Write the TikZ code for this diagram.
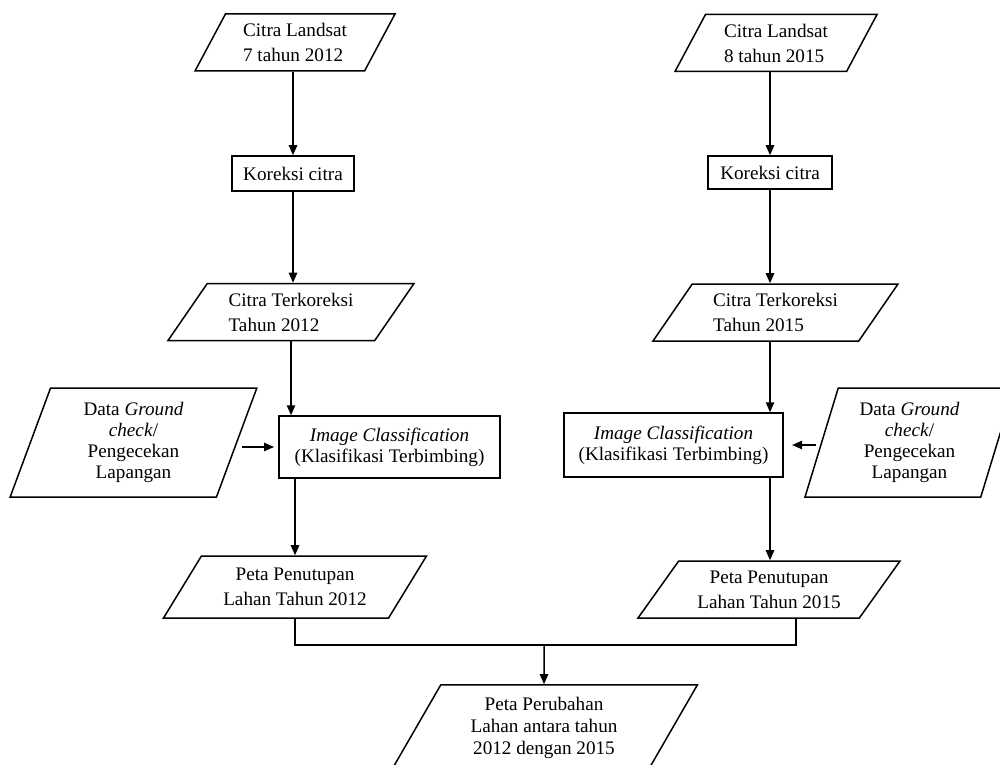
\documentclass[tikz,border=0pt]{standalone}
\usepackage{fontspec}
\setmainfont{Liberation Serif}
\usetikzlibrary{shapes.geometric,arrows.meta}

\begin{document}
\begin{tikzpicture}[x=0.6pt,y=-0.6pt,
  font=\fontsize{11.5}{15}\selectfont, line width=0.9pt,
  jajar/.style 2 args={draw, trapezium, trapezium left angle=#1, trapezium right angle=#2,
    trapezium stretches body=true, inner sep=2pt},
  kotak/.style={draw, rectangle, align=center, inner sep=2pt},
  panah/.style={-{Triangle[length=6pt,width=5pt]}}]
  \useasboundingbox (0,0) rectangle (1000,764);

  % kiri: 2012
  \node[jajar={56}{124}, minimum width=120pt, minimum height=34.2pt, align=left] (landL) at (295,42.5) {Citra Landsat\\7 tahun 2012};
  \node[kotak, minimum width=73.2pt, minimum height=21pt] (korL) at (293,173.5) {Koreksi citra};
  \node[jajar={49}{131}, minimum width=147.6pt, minimum height=34.2pt, align=left] (terL) at (291,312) {Citra Terkoreksi\\Tahun 2012};
  \node[jajar={65}{115}, minimum width=148pt, minimum height=65.4pt, align=center, font=\fontsize{11.5}{12.5}\selectfont] (dataL) at (133.5,442.5) {Data \textit{Ground}\\\textit{check}/\\Pengecekan\\Lapangan};
  \node[kotak, minimum width=132.6pt, minimum height=37.2pt, font=\fontsize{11.5}{12.5}\selectfont] (imgL) at (389.5,447) {\textit{Image Classification}\\(Klasifikasi Terbimbing)};
  \node[jajar={49.5}{130.5}, minimum width=157.8pt, minimum height=37.2pt, align=center] (peL) at (295,587) {Peta Penutupan\\Lahan Tahun 2012};

  % kanan: 2015
  \node[jajar={56}{124}, minimum width=121.2pt, minimum height=34.2pt, align=left] (landR) at (776,43) {Citra Landsat\\8 tahun 2015};
  \node[kotak, minimum width=74.4pt, minimum height=19.8pt] (korR) at (770,172.5) {Koreksi citra};
  \node[jajar={49}{131}, minimum width=147pt, minimum height=34.2pt, align=left] (terR) at (775.5,312.5) {Citra Terkoreksi\\Tahun 2015};
  \node[jajar={69}{111}, minimum width=125.4pt, minimum height=65.4pt, align=center, font=\fontsize{11.5}{12.5}\selectfont] (dataR) at (909.5,442.5) {Data \textit{Ground}\\\textit{check}/\\Pengecekan\\Lapangan};
  \node[kotak, minimum width=131.4pt, minimum height=38.4pt, font=\fontsize{11.5}{12.5}\selectfont] (imgR) at (673.5,445) {\textit{Image Classification}\\(Klasifikasi Terbimbing)};
  \node[jajar={47.5}{132.5}, minimum width=157.2pt, minimum height=34.2pt, align=center] (peR) at (769,589.5) {Peta Penutupan\\Lahan Tahun 2015};

  % hasil
  \node[jajar={53.7}{126.3}, minimum width=184pt, minimum height=52pt, align=center, font=\fontsize{11.5}{13.2}\selectfont] (hasil) at (544,728.3) {Peta Perubahan\\Lahan antara tahun\\2012 dengan 2015};
  \coordinate (gabung) at (544,645);
  \coordinate (peRout) at ([xshift=16.2pt]peR.south);

  \path[panah]
  (landL.south -| korL.north) edge (korL.north)
  (korL.south) edge (korL.south |- terL.north)
  (terL.south) edge (terL.south |- imgL.north)
  (dataL.east |- imgL.west) edge[shorten <=3pt, shorten >=2.5pt] (imgL.west)
  (imgL.south -| peL.north) edge (peL.north)
  (landR.south -| korR.north) edge (korR.north)
  (korR.south) edge (korR.south |- terR.north)
  (terR.south -| korR.south) edge (korR.south |- imgR.north)
  (dataR.west |- imgR.east) edge[shorten <=3pt, shorten >=5pt] (imgR.east)
  (imgR.south -| korR.south) edge (korR.south |- peR.north)
  (gabung) edge (hasil.north);
  \draw (peL.south) |- (gabung) -| (peRout);
\end{tikzpicture}
\end{document}
